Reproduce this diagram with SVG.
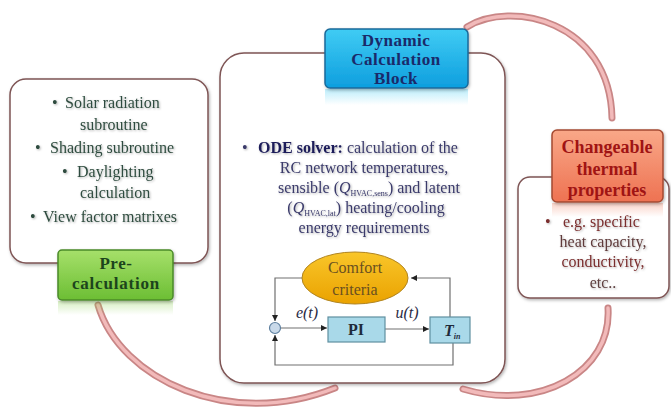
<svg xmlns="http://www.w3.org/2000/svg" width="671" height="414" viewBox="0 0 671 414">
<defs>
  <linearGradient id="gBlue" x1="0" y1="0" x2="0" y2="1"><stop offset="0" stop-color="#40ccf4"/><stop offset="1" stop-color="#0e9ede"/></linearGradient>
  <linearGradient id="gGreen" x1="0" y1="0" x2="0" y2="1"><stop offset="0" stop-color="#a6e06a"/><stop offset="1" stop-color="#6cbe34"/></linearGradient>
  <linearGradient id="gOrange" x1="0" y1="0" x2="0" y2="1"><stop offset="0" stop-color="#f9a888"/><stop offset="1" stop-color="#ee7252"/></linearGradient>
  <linearGradient id="gYellow" x1="0" y1="0" x2="0" y2="1"><stop offset="0" stop-color="#f9c62a"/><stop offset="1" stop-color="#eaa200"/></linearGradient>
  <linearGradient id="rBlue" x1="0" y1="0" x2="0" y2="1"><stop offset="0" stop-color="#40ccf4" stop-opacity="0.35"/><stop offset="1" stop-color="#40ccf4" stop-opacity="0"/></linearGradient>
  <linearGradient id="rGreen" x1="0" y1="0" x2="0" y2="1"><stop offset="0" stop-color="#8ad050" stop-opacity="0.35"/><stop offset="1" stop-color="#8ad050" stop-opacity="0"/></linearGradient>
  <linearGradient id="rOrange" x1="0" y1="0" x2="0" y2="1"><stop offset="0" stop-color="#f08060" stop-opacity="0.35"/><stop offset="1" stop-color="#f08060" stop-opacity="0"/></linearGradient>
  <filter id="sh" x="-10%" y="-10%" width="120%" height="120%"><feDropShadow dx="1" dy="1.5" stdDeviation="1.5" flood-color="#000" flood-opacity="0.3"/></filter>
  <filter id="ts" x="-5%" y="-20%" width="110%" height="140%"><feDropShadow dx="1" dy="1" stdDeviation="0.8" flood-color="#000" flood-opacity="0.3"/></filter>
  <marker id="ah" viewBox="0 0 6 6" refX="6" refY="3" markerWidth="5" markerHeight="5" orient="auto"><path d="M0,0 L6,3 L0,6 z" fill="#222"/></marker>
  <style>
    .frame{fill:#fff;stroke:#7e5454;stroke-width:1.5}
    .arc1{fill:none;stroke:#c98686;stroke-width:7;stroke-linecap:round}
    .arc2{fill:none;stroke:#f2baba;stroke-width:3.5;stroke-linecap:round}
    .t{font-family:"Liberation Serif","Times New Roman",serif;font-size:16px}
    .lt{fill:#2f4c3f}
    .ct{fill:#3b3b6b}
    .rt{fill:#7a2e2e}
    .lab{font-family:"Liberation Serif","Times New Roman",serif;font-weight:bold;text-anchor:middle}
    .ln{fill:none;stroke:#707070;stroke-width:1.2}
    .blk{fill:#a9d9e9;stroke:#5f8fa0;stroke-width:1.2}
  </style>
</defs>

<g id="connectors">
  <path class="arc1" d="M467 27 C510 0 610 20 612 118"/>
  <path class="arc2" d="M467 27 C510 0 610 20 612 118"/>
  <path class="arc1" d="M608 308 C612 372 540 412 463 389"/>
  <path class="arc2" d="M608 308 C612 372 540 412 463 389"/>
  <path class="arc1" d="M98 305 C120 380 230 430 335 388"/>
  <path class="arc2" d="M98 305 C120 380 230 430 335 388"/>
</g>

<g id="precalc-panel">
  <rect class="frame" x="10" y="79" width="198" height="184" rx="16" filter="url(#sh)"/>
  <g filter="url(#ts)">
  <text class="t lt" x="52" y="108">•<tspan x="65">Solar radiation</tspan></text>
  <text class="t lt" x="80" y="130">subroutine</text>
  <text class="t lt" x="35" y="153">•<tspan x="50">Shading subroutine</tspan></text>
  <text class="t lt" x="62" y="177">•<tspan x="77">Daylighting</tspan></text>
  <text class="t lt" x="80" y="198">calculation</text>
  <text class="t lt" x="30" y="222">•<tspan x="43">View factor matrixes</tspan></text>
  </g>
</g>

<g id="precalc-label">
  <rect x="58" y="301" width="115" height="14" fill="url(#rGreen)"/>
  <rect x="58" y="250" width="115" height="50" rx="4" fill="url(#gGreen)" stroke="#4a8a2a" stroke-width="1.5" filter="url(#sh)"/>
  <text class="lab" x="116" y="269" font-size="17" fill="#1c441c" letter-spacing="0.6">Pre-</text>
  <text class="lab" x="116" y="289" font-size="17" fill="#1c441c" letter-spacing="0.8">calculation</text>
</g>

<g id="dynamic-panel">
  <rect class="frame" x="220" y="53" width="285" height="330" rx="24" filter="url(#sh)"/>
  <g filter="url(#ts)">
  <text class="t ct" x="242" y="153">•<tspan x="258" font-weight="bold" fill="#1e1e5a">ODE solver:</tspan><tspan> calculation of the</tspan></text>
  <text class="t ct" x="364" y="173" text-anchor="middle">RC network temperatures,</text>
  <text class="t ct" x="369" y="193" text-anchor="middle">sensible (<tspan font-style="italic">Q</tspan><tspan font-size="8" dy="3">HVAC,sens</tspan><tspan dy="-3">) and latent</tspan></text>
  <text class="t ct" x="366" y="213" text-anchor="middle">(<tspan font-style="italic">Q</tspan><tspan font-size="8" dy="3">HVAC,lat</tspan><tspan dy="-3">) heating/cooling</tspan></text>
  <text class="t ct" x="364" y="233" text-anchor="middle">energy requirements</text>
  </g>
</g>

<g id="dynamic-label">
  <rect x="325" y="89" width="143" height="16" fill="url(#rBlue)"/>
  <rect x="325" y="29" width="143" height="59" rx="5" fill="url(#gBlue)" stroke="#1a6a9a" stroke-width="1.5" filter="url(#sh)"/>
  <text class="lab" x="396" y="46" font-size="17" fill="#1a2a6a" letter-spacing="0.5">Dynamic</text>
  <text class="lab" x="396" y="65" font-size="17" fill="#1a2a6a" letter-spacing="0.5">Calculation</text>
  <text class="lab" x="396" y="84" font-size="17" fill="#1a2a6a" letter-spacing="0.5">Block</text>
</g>

<g id="thermal-panel">
  <rect class="frame" x="518" y="177" width="151" height="121" rx="12" filter="url(#sh)"/>
  <g filter="url(#ts)">
  <text class="t rt" x="545" y="227">•<tspan x="563">e.g. specific</tspan></text>
  <text class="t" x="603" y="247" text-anchor="middle" fill="#5e3a3a">heat capacity,</text>
  <text class="t rt" x="603" y="267" text-anchor="middle">conductivity,</text>
  <text class="t" x="603" y="288" text-anchor="middle" fill="#5e4040">etc..</text>
  </g>
</g>

<g id="thermal-label">
  <rect x="552" y="203" width="111" height="14" fill="url(#rOrange)"/>
  <rect x="552" y="130" width="111" height="72" rx="5" fill="url(#gOrange)" stroke="#a44a30" stroke-width="1.5" filter="url(#sh)"/>
  <text class="lab" x="607" y="153" font-size="18" fill="#a01414">Changeable</text>
  <text class="lab" x="607" y="175" font-size="18" fill="#a01414">thermal</text>
  <text class="lab" x="607" y="196" font-size="18" fill="#a01414">properties</text>
</g>

<g id="control-loop">
  <path class="ln" d="M302 278 H275 V321" marker-end="url(#ah)"/>
  <path class="ln" d="M450 317 V278 H411" marker-end="url(#ah)"/>
  <path class="ln" d="M281 328 H327" marker-end="url(#ah)"/>
  <path class="ln" d="M385 329 H429" marker-end="url(#ah)"/>
  <path class="ln" d="M453 343 V365 H275 V335" marker-end="url(#ah)"/>
</g>

<g id="comfort">
  <ellipse cx="355" cy="278" rx="53" ry="26" fill="url(#gYellow)" stroke="#b08420" stroke-width="1"/>
  <text class="t" x="355" y="273" text-anchor="middle" font-size="16.5" fill="#6a5020">Comfort</text>
  <text class="t" x="355" y="295" text-anchor="middle" font-size="16.5" fill="#6a5020">criteria</text>
</g>

<g id="sum">
  <circle cx="275" cy="328" r="5.5" fill="#c9d9e9" stroke="#5f80a0" stroke-width="1.2"/>
</g>

<g id="pi">
  <rect class="blk" x="328" y="317" width="57" height="25"/>
  <text class="lab" x="356" y="335" font-size="16" fill="#1e2a3a">PI</text>
</g>

<g id="tin">
  <rect class="blk" x="430" y="317" width="40" height="26"/>
  <text class="t" x="444" y="336" font-style="italic" font-weight="bold" fill="#1e2a3a">T<tspan font-size="8" dy="3">in</tspan></text>
</g>

<g id="signal-labels">
  <text class="t" x="307" y="318" text-anchor="middle" font-style="italic" font-size="15" fill="#2a2a44">e(t)</text>
  <text class="t" x="407" y="318" text-anchor="middle" font-style="italic" font-size="15" fill="#2a2a44">u(t)</text>
</g>
</svg>
